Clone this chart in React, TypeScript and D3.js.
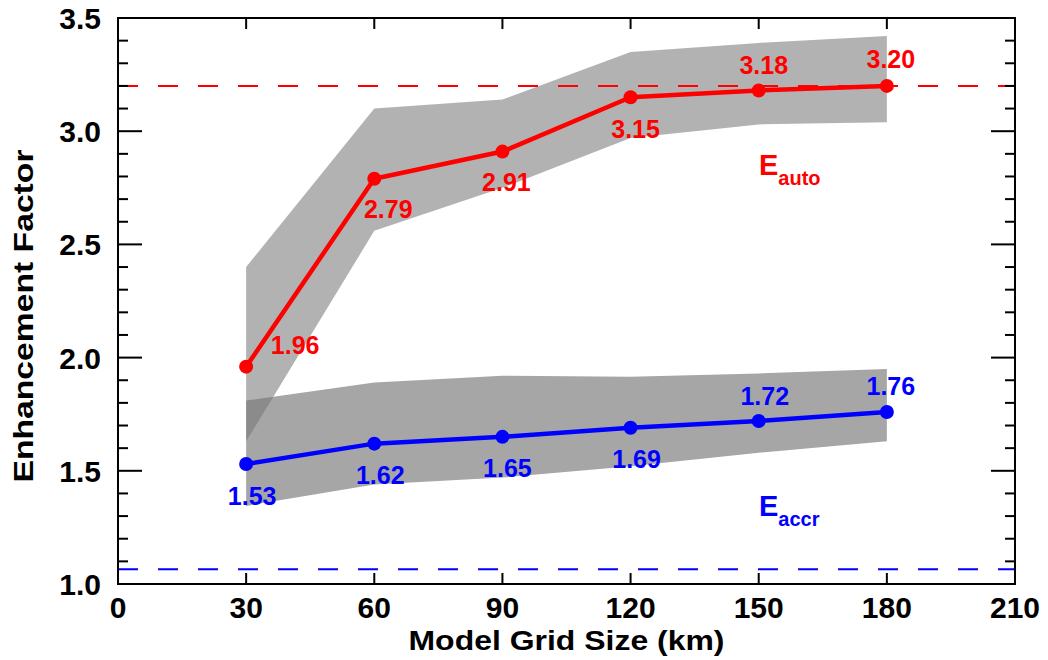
import React, { useRef, useEffect } from "react";
import * as d3 from "d3";

// grid sizes (km)
const gridSizes = [30, 60, 90, 120, 150, 180];

// E_auto
const autoValues = [1.96, 2.79, 2.91, 3.15, 3.18, 3.2];
const autoLower = [1.63, 2.56, 2.75, 2.97, 3.03, 3.04];
const autoUpper = [2.4, 3.1, 3.14, 3.35, 3.39, 3.42];

// E_accr
const accrValues = [1.53, 1.62, 1.65, 1.69, 1.72, 1.76];
const accrLower = [1.345, 1.44, 1.47, 1.52, 1.58, 1.63];
const accrUpper = [1.81, 1.89, 1.92, 1.915, 1.93, 1.95];

// label offsets in px (dx, dy) relative to each point
const autoLabelOffsets = [[49, -13], [14, 39], [4, 39], [5, 41], [5, -16], [4, -18]];
const accrLabelOffsets = [[6, 41], [6, 40], [5, 40], [6, 40], [6, -16], [4, -17]];

const autoRef = 3.2;
const accrRef = 1.065;

const xTicks = [0, 30, 60, 90, 120, 150, 180, 210];
const yTicks = [1.0, 1.5, 2.0, 2.5, 3.0, 3.5];

const FONT = "'Liberation Sans', Arial, Helvetica, sans-serif";

const App = () => {
  const svgRef = useRef<SVGSVGElement>(null);

  useEffect(() => {
    const svg = d3.select(svgRef.current);
    svg.selectAll("*").remove();

    const width = 1048;
    const height = 660;
    const margin = { top: 18, right: 33, bottom: 76, left: 118 };

    const x = d3.scaleLinear().domain([0, 210]).range([margin.left, width - margin.right]);
    const y = d3.scaleLinear().domain([1.0, 3.5]).range([height - margin.bottom, margin.top]);

    const x0 = x(0), x1 = x(210), y0 = y(1.0), y1 = y(3.5);

    // shaded ranges
    const accrArea = d3
      .area<number>()
      .x((d, i) => x(gridSizes[i]))
      .y0((d, i) => y(accrLower[i]))
      .y1((d, i) => y(accrUpper[i]));
    const autoArea = d3
      .area<number>()
      .x((d, i) => x(gridSizes[i]))
      .y0((d, i) => y(autoLower[i]))
      .y1((d, i) => y(autoUpper[i]));

    svg.append("path").datum(accrValues).attr("fill", "#a6a6a6").attr("d", accrArea);
    svg
      .append("path")
      .datum(autoValues)
      .attr("fill", "rgb(120,120,120)")
      .attr("fill-opacity", 0.57)
      .attr("d", autoArea);

    // reference lines
    svg
      .append("line")
      .attr("x1", x0)
      .attr("x2", x1)
      .attr("y1", y(autoRef))
      .attr("y2", y(autoRef))
      .attr("stroke", "#ff0000")
      .attr("stroke-width", 2)
      .attr("stroke-dasharray", "20,20");
    svg
      .append("line")
      .attr("x1", x0)
      .attr("x2", x1)
      .attr("y1", y(accrRef))
      .attr("y2", y(accrRef))
      .attr("stroke", "#0000ff")
      .attr("stroke-width", 2)
      .attr("stroke-dasharray", "20,20");

    // frame
    svg
      .append("rect")
      .attr("x", x0)
      .attr("y", y1)
      .attr("width", x1 - x0)
      .attr("height", y0 - y1)
      .attr("fill", "none")
      .attr("stroke", "black")
      .attr("stroke-width", 2);

    // y ticks (major + minor, both sides)
    const yMinor = d3.range(10, 36).map((v) => v / 10);
    yMinor.forEach((v) => {
      const major = Math.abs(v * 2 - Math.round(v * 2)) < 1e-6;
      const len = major ? 24 : 10;
      svg.append("line").attr("x1", x0).attr("x2", x0 + len).attr("y1", y(v)).attr("y2", y(v))
        .attr("stroke", "black").attr("stroke-width", 2);
      svg.append("line").attr("x1", x1).attr("x2", x1 - len).attr("y1", y(v)).attr("y2", y(v))
        .attr("stroke", "black").attr("stroke-width", 2);
    });

    // x ticks (top + bottom)
    xTicks.forEach((v) => {
      svg.append("line").attr("x1", x(v)).attr("x2", x(v)).attr("y1", y0).attr("y2", y0 - 11)
        .attr("stroke", "black").attr("stroke-width", 2);
      svg.append("line").attr("x1", x(v)).attr("x2", x(v)).attr("y1", y1).attr("y2", y1 + 11)
        .attr("stroke", "black").attr("stroke-width", 2);
    });

    // tick labels
    svg
      .selectAll(".xlab")
      .data(xTicks)
      .enter()
      .append("text")
      .attr("x", (d) => x(d))
      .attr("y", y0 + 34)
      .attr("text-anchor", "middle")
      .style("font-family", FONT)
      .style("font-weight", "bold")
      .style("font-size", "30px")
      .text((d) => String(d));

    svg
      .selectAll(".ylab")
      .data(yTicks)
      .enter()
      .append("text")
      .attr("x", x0 - 17)
      .attr("y", (d) => y(d) + 11)
      .attr("text-anchor", "end")
      .style("font-family", FONT)
      .style("font-weight", "bold")
      .style("font-size", "30px")
      .text((d) => d.toFixed(1));

    // axis titles
    svg
      .append("text")
      .attr("x", (x0 + x1) / 2)
      .attr("y", 650)
      .attr("text-anchor", "middle")
      .attr("textLength", 316)
      .attr("lengthAdjust", "spacingAndGlyphs")
      .style("font-family", FONT)
      .style("font-weight", "bold")
      .style("font-size", "28px")
      .text("Model Grid Size (km)");

    svg
      .append("text")
      .attr("transform", `translate(33,316) rotate(-90)`)
      .attr("text-anchor", "middle")
      .attr("textLength", 333)
      .attr("lengthAdjust", "spacingAndGlyphs")
      .style("font-family", FONT)
      .style("font-weight", "bold")
      .style("font-size", "28px")
      .text("Enhancement Factor");

    // series lines + markers + labels
    const drawSeries = (values: number[], color: string, offsets: number[][]) => {
      const line = d3
        .line<number>()
        .x((d, i) => x(gridSizes[i]))
        .y((d) => y(d));
      svg
        .append("path")
        .datum(values)
        .attr("fill", "none")
        .attr("stroke", color)
        .attr("stroke-width", 4.5)
        .attr("stroke-linejoin", "round")
        .attr("d", line);

      svg
        .append("g")
        .selectAll("circle")
        .data(values)
        .enter()
        .append("circle")
        .attr("cx", (d, i) => x(gridSizes[i]))
        .attr("cy", (d) => y(d))
        .attr("r", 7)
        .attr("fill", color);

      svg
        .append("g")
        .selectAll("text")
        .data(values)
        .enter()
        .append("text")
        .attr("x", (d, i) => x(gridSizes[i]) + offsets[i][0])
        .attr("y", (d, i) => y(d) + offsets[i][1])
        .attr("text-anchor", "middle")
        .attr("fill", color)
        .style("font-family", FONT)
        .style("font-weight", "bold")
        .style("font-size", "25px")
        .text((d) => d.toFixed(2));
    };

    drawSeries(autoValues, "#ff0000", autoLabelOffsets);
    drawSeries(accrValues, "#0000ff", accrLabelOffsets);

    // series names
    const name = (main: string, sub: string, color: string, px: number, py: number) => {
      const t = svg
        .append("text")
        .attr("x", px)
        .attr("y", py)
        .attr("fill", color)
        .style("font-family", FONT)
        .style("font-weight", "bold");
      t.append("tspan").style("font-size", "29px").text(main);
      t.append("tspan").attr("dy", 10).style("font-size", "20px").text(sub);
    };
    name("E", "auto", "#ff0000", 759, 175);
    name("E", "accr", "#0000ff", 759, 516);
  }, []);

  return (
    <svg
      ref={svgRef}
      width={1048}
      height={660}
      style={{ position: "absolute", left: 0, top: 0, background: "white" }}
    ></svg>
  );
};

export default App;
